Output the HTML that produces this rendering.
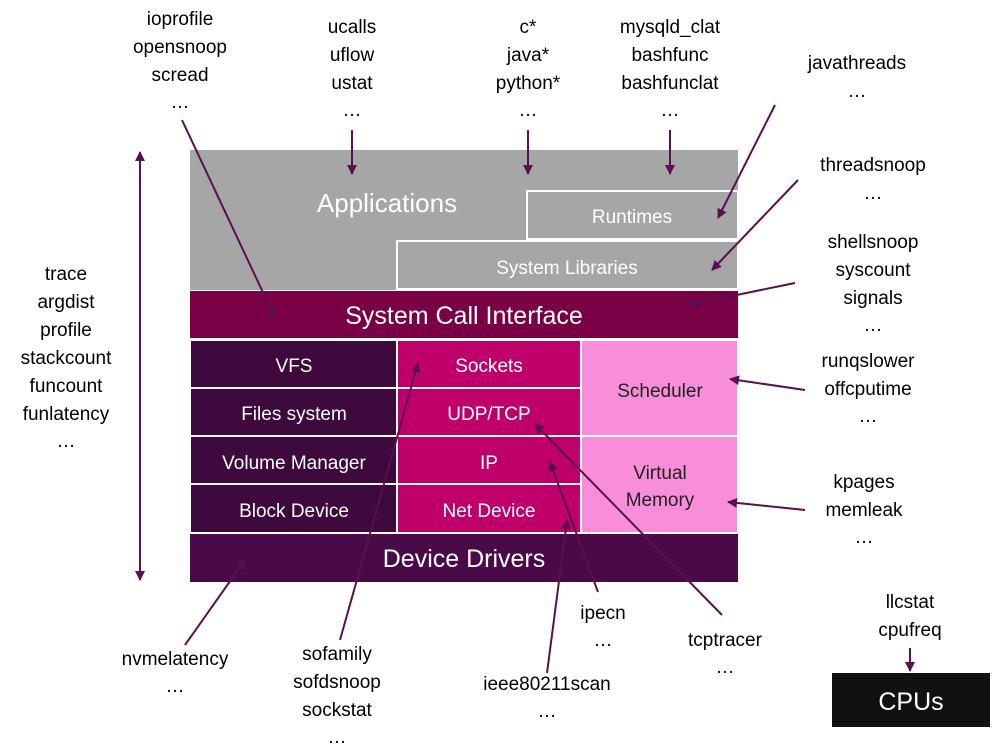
<!DOCTYPE html>
<html><head><style>
body{margin:0;background:#fff;}
svg text{font-family:"Liberation Sans",sans-serif;}
</style></head><body>
<svg width="1000" height="751" viewBox="0 0 1000 751" xmlns="http://www.w3.org/2000/svg">
<defs><marker id="a" markerWidth="10" markerHeight="10" refX="9" refY="5" orient="auto" markerUnits="userSpaceOnUse"><path d="M0,0 L10,5 L0,10 z" fill="#5a1050"/></marker>
<marker id="b" markerWidth="10" markerHeight="10" refX="1" refY="5" orient="auto" markerUnits="userSpaceOnUse"><path d="M10,0 L0,5 L10,10 z" fill="#5a1050"/></marker></defs>
<rect x="190" y="150" width="548" height="140" fill="#a6a6a6"/>
<rect x="527" y="191" width="211" height="48" fill="#a6a6a6" stroke="#fff" stroke-width="2"/>
<rect x="397" y="241" width="341" height="48" fill="#a6a6a6" stroke="#fff" stroke-width="2"/>
<rect x="190" y="291" width="548" height="47" fill="#7a0046"/>
<g fill="#3e0a3e" stroke="#fff" stroke-width="2">
<rect x="190" y="340" width="207" height="48"/><rect x="190" y="388" width="207" height="48"/><rect x="190" y="436" width="207" height="48"/><rect x="190" y="484" width="207" height="49"/></g>
<g fill="#c0006a" stroke="#fff" stroke-width="2">
<rect x="397" y="340" width="184" height="48"/><rect x="397" y="388" width="184" height="48"/><rect x="397" y="436" width="184" height="48"/><rect x="397" y="484" width="184" height="49"/></g>
<g fill="#f88ed9" stroke="#fff" stroke-width="2">
<rect x="581" y="340" width="157" height="96"/><rect x="581" y="436" width="157" height="97"/></g>
<rect x="190" y="534" width="548" height="48" fill="#4a0a48"/>
<rect x="832" y="673" width="158" height="54" fill="#111"/>
<g fill="#fff" text-anchor="middle" font-size="19">
<text x="387" y="212" font-size="26">Applications</text>
<text x="632" y="223">Runtimes</text>
<text x="567" y="274">System Libraries</text>
<text x="464" y="324" font-size="25">System Call Interface</text>
<text x="294" y="372">VFS</text><text x="294" y="420">Files system</text><text x="294" y="469">Volume Manager</text><text x="294" y="517">Block Device</text>
<text x="489" y="372">Sockets</text><text x="489" y="420">UDP/TCP</text><text x="489" y="469">IP</text><text x="489" y="517">Net Device</text>
<text x="464" y="567" font-size="25">Device Drivers</text>
<text x="911" y="710" font-size="25">CPUs</text>
</g>
<g fill="#222" text-anchor="middle" font-size="19">
<text x="660" y="397">Scheduler</text><text x="660" y="479">Virtual</text><text x="660" y="506">Memory</text>
</g>
<g fill="#000" text-anchor="middle" font-size="19">
<text x="180" y="25">ioprofile</text><text x="180" y="53">opensnoop</text><text x="180" y="81">scread</text><text x="180" y="108">…</text>
<text x="352" y="33">ucalls</text><text x="352" y="61">uflow</text><text x="352" y="89">ustat</text><text x="352" y="116">…</text>
<text x="528" y="33">c*</text><text x="528" y="61">java*</text><text x="528" y="89">python*</text><text x="528" y="116">…</text>
<text x="670" y="33">mysqld_clat</text><text x="670" y="61">bashfunc</text><text x="670" y="89">bashfunclat</text><text x="670" y="116">…</text>
<text x="857" y="69">javathreads</text><text x="857" y="97">…</text>
<text x="873" y="171">threadsnoop</text><text x="873" y="199">…</text>
<text x="873" y="248">shellsnoop</text><text x="873" y="276">syscount</text><text x="873" y="304">signals</text><text x="873" y="331">…</text>
<text x="868" y="367">runqslower</text><text x="868" y="395">offcputime</text><text x="868" y="422">…</text>
<text x="864" y="488">kpages</text><text x="864" y="516">memleak</text><text x="864" y="543">…</text>
<text x="910" y="608">llcstat</text><text x="910" y="636">cpufreq</text>
<text x="66" y="280">trace</text><text x="66" y="308">argdist</text><text x="66" y="336">profile</text><text x="66" y="364">stackcount</text><text x="66" y="392">funcount</text><text x="66" y="420">funlatency</text><text x="66" y="447">…</text>
<text x="175" y="665">nvmelatency</text><text x="175" y="692">…</text>
<text x="337" y="660">sofamily</text><text x="337" y="688">sofdsnoop</text><text x="337" y="716">sockstat</text><text x="337" y="743">…</text>
<text x="547" y="690">ieee80211scan</text><text x="547" y="717">…</text>
<text x="603" y="619">ipecn</text><text x="603" y="646">…</text>
<text x="725" y="646">tcptracer</text><text x="725" y="673">…</text>
</g>
<g stroke="#5a1050" stroke-width="2" fill="none" marker-end="url(#a)">
<line x1="182" y1="120" x2="275" y2="318"/>
<line x1="352" y1="130" x2="352" y2="174"/>
<line x1="528" y1="130" x2="528" y2="174"/>
<line x1="670" y1="130" x2="670" y2="174"/>
<line x1="775" y1="105" x2="718" y2="218"/>
<line x1="798" y1="180" x2="712" y2="270"/>
<line x1="795" y1="283" x2="688" y2="305"/>
<line x1="805" y1="390" x2="730" y2="379"/>
<line x1="805" y1="510" x2="728" y2="502"/>
<line x1="910" y1="648" x2="910" y2="671"/>
<line x1="185" y1="645" x2="245" y2="560"/>
<line x1="340" y1="640" x2="418" y2="363"/>
<line x1="547" y1="673" x2="567" y2="520"/>
<line x1="598" y1="592" x2="550" y2="462"/>
<line x1="722" y1="615" x2="535" y2="424"/>
<line x1="140" y1="152" x2="140" y2="580" marker-start="url(#b)"/>
</g>
</svg>
</body></html>
